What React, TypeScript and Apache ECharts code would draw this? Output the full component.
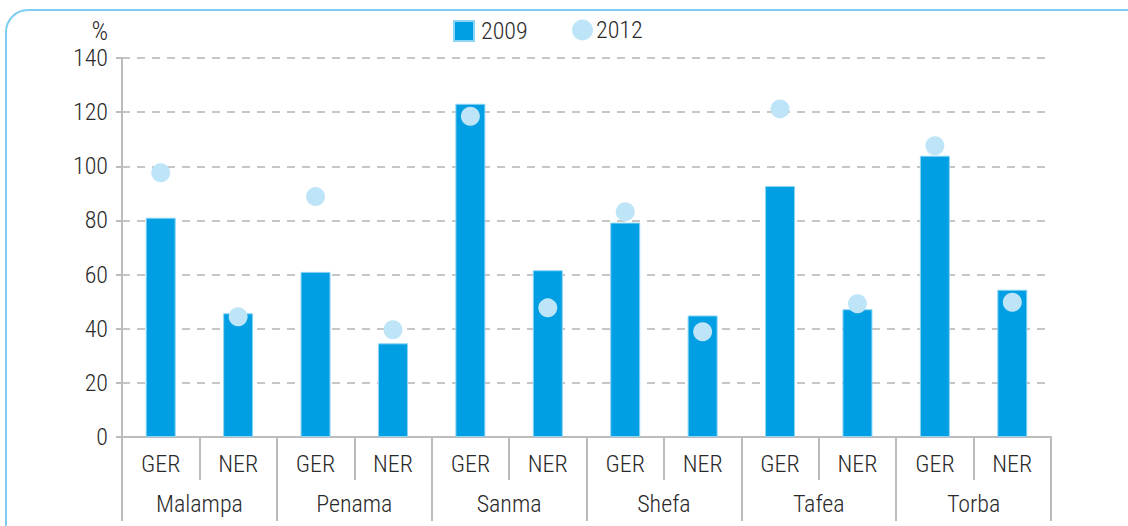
import React, { useEffect, useRef } from "react";
import * as echarts from "echarts";

const provinces = ["Malampa", "Penama", "Sanma", "Shefa", "Tafea", "Torba"];
const indicators = ["GER", "NER", "GER", "NER", "GER", "NER", "GER", "NER", "GER", "NER", "GER", "NER"];
const values2009 = [81, 45.7, 61, 34.6, 123.1, 61.6, 79.2, 44.9, 92.7, 47.2, 103.9, 54.4];
const values2012 = [97.6, 44.4, 88.8, 39.6, 118.5, 47.7, 83.2, 38.9, 121.2, 49.2, 107.6, 49.8];
const yTicks = { min: 0, max: 140, interval: 20 };

const FONT = '"Roboto Condensed", "DejaVu Sans Condensed", sans-serif';
const FS = 24;
const TXT = "#2a2a2a";

export default function App() {
  const ref = useRef<HTMLDivElement>(null);
  useEffect(() => {
    document.body.style.margin = "0";
    const chart = echarts.init(ref.current!, null, { renderer: "svg" });
    const axisGray = "#bcbcbc";
    const label = { fontFamily: FONT, fontSize: FS, fontWeight: 300, color: TXT };
    chart.setOption({
      animation: false,
      textStyle: { fontFamily: FONT },
      grid: { left: 122, right: 77, top: 58, bottom: 89 },
      legend: [
        {
          left: 453, top: 19, padding: 0, itemWidth: 20, itemHeight: 20,
          data: [{ name: "2009", icon: "rect" }],
          textStyle: { ...label, padding: [0, 0, 0, 2] },
        },
        {
          left: 572, top: 18, padding: 0, itemWidth: 21, itemHeight: 21,
          data: [{ name: "2012", icon: "circle" }],
          textStyle: { ...label, padding: [0, 0, 0, -2] },
        },
      ],
      xAxis: [
        {
          type: "category",
          data: indicators,
          position: "bottom",
          axisLine: { lineStyle: { color: axisGray, width: 2 } },
          axisTick: { show: true, length: 43, lineStyle: { color: axisGray, width: 2 } },
          axisLabel: { interval: 0, margin: 15, ...label },
        },
        {
          type: "category",
          data: provinces,
          position: "bottom",
          axisLine: { lineStyle: { color: axisGray, width: 2 } },
          axisTick: { show: true, length: 84, lineStyle: { color: axisGray, width: 2 } },
          axisLabel: { interval: 0, margin: 55, ...label },
        },
      ],
      yAxis: {
        type: "value",
        min: yTicks.min,
        max: yTicks.max,
        interval: yTicks.interval,
        axisLine: { show: true, lineStyle: { color: axisGray, width: 2 } },
        axisTick: { show: true, length: 6, lineStyle: { color: axisGray, width: 2 } },
        axisLabel: { margin: 14, ...label },
        splitLine: { lineStyle: { color: "#b4b4b4", width: 1.5, type: [8, 7] } },
      },
      graphic: [
        {
          type: "rect",
          shape: { x: 6, y: 10, width: 1300, height: 700, r: 22 },
          style: { fill: "none", stroke: "#7ccdf1", lineWidth: 2 },
          silent: true,
        },
        {
          type: "text",
          x: 108,
          y: 18,
          style: { text: "%", fontFamily: FONT, fontSize: 26, fontWeight: 300, fill: TXT, align: "right" },
        },
      ],
      series: [
        {
          name: "2009",
          type: "bar",
          data: values2009,
          barWidth: 30,
          itemStyle: { color: "#009fe3", borderColor: "#8dd5f5", borderWidth: 1 },
        },
        {
          name: "2012",
          type: "scatter",
          data: values2012,
          symbolSize: 19,
          itemStyle: { color: "#bee4f8", opacity: 1 },
        },
      ],
    });
    return () => chart.dispose();
  }, []);
  return <div ref={ref} style={{ width: 1128, height: 526 }} />;
}
